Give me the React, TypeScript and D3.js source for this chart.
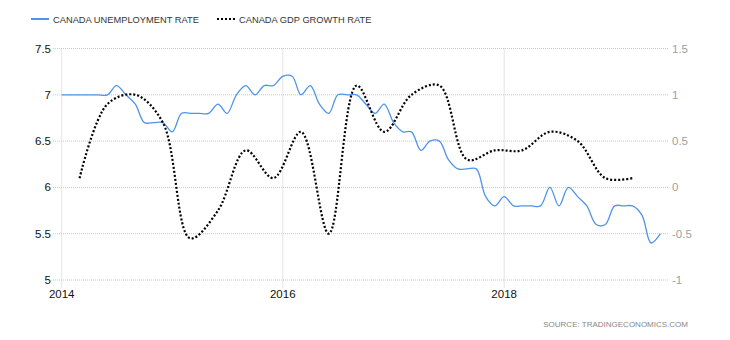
import React from "react";
import * as d3 from "d3";

const unemploymentStart = new Date(2014, 0, 1);
const unemployment: number[] = [
  7.0, 7.0, 7.0, 7.0, 7.0, 7.0, 7.1, 7.0, 6.9, 6.7, 6.7, 6.7,
  6.6, 6.8, 6.8, 6.8, 6.8, 6.9, 6.8, 7.0, 7.1, 7.0, 7.1, 7.1,
  7.2, 7.2, 7.0, 7.1, 6.9, 6.8, 7.0, 7.0, 7.0, 6.9, 6.8, 6.9,
  6.7, 6.6, 6.6, 6.4, 6.5, 6.5, 6.3, 6.2, 6.2, 6.2, 5.9, 5.8,
  5.9, 5.8, 5.8, 5.8, 5.8, 6.0, 5.8, 6.0, 5.9, 5.8, 5.6, 5.6,
  5.8, 5.8, 5.8, 5.7, 5.4, 5.5,
];

const gdpStart = new Date(2014, 2, 1);
const gdpGrowth: number[] = [
  0.1, 0.9, 1.0, 0.7, -0.55, -0.25, 0.4, 0.1, 0.6, -0.5, 1.1,
  0.6, 1.0, 1.1, 0.3, 0.4, 0.4, 0.6, 0.5, 0.1, 0.1,
];

const leftTicks = [5, 5.5, 6, 6.5, 7, 7.5];
const rightTicks = [-1, -0.5, 0, 0.5, 1, 1.5];
const yearTicks = [2014, 2016, 2018];
const legendLabels = ["CANADA UNEMPLOYMENT RATE", "CANADA GDP GROWTH RATE"];
const sourceText = "SOURCE:  TRADINGECONOMICS.COM";

const W = 730;
const H = 340;
const X0 = 61.7;
const X1 = 669.5;
const YTOP = 48.5;
const YBOT = 280;
const FONT = "'Liberation Sans', Arial, sans-serif";
const BLUE = "#4f94ea";

export default function App() {
  const x = d3
    .scaleTime()
    .domain([new Date(2014, 0, 1), new Date(2019, 6, 1)])
    .range([X0, X1]);
  const yL = d3.scaleLinear().domain([5, 7.5]).range([YBOT, YTOP]);
  const yR = d3.scaleLinear().domain([-1, 1.5]).range([YBOT, YTOP]);

  const uData = unemployment.map((v, i) => ({
    d: d3.timeMonth.offset(unemploymentStart, i),
    v,
  }));
  const gData = gdpGrowth.map((v, i) => ({
    d: d3.timeMonth.offset(gdpStart, i * 3),
    v,
  }));

  const uLine = d3
    .line<{ d: Date; v: number }>()
    .x((p) => x(p.d))
    .y((p) => yL(p.v))
    .curve(d3.curveCatmullRom.alpha(0.5));
  const gLine = d3
    .line<{ d: Date; v: number }>()
    .x((p) => x(p.d))
    .y((p) => yR(p.v))
    .curve(d3.curveCatmullRom.alpha(0.5));

  return (
    <svg
      width={W}
      height={H}
      style={{ position: "absolute", left: 0, top: 0, background: "#fff" }}
      fontFamily={FONT}
    >
      {/* legend */}
      <line x1={31} x2={49} y1={19} y2={19} stroke={BLUE} strokeWidth={2} />
      <text x={53} y={22.5} fontSize={9.3} fill="#333">
        {legendLabels[0]}
      </text>
      <line
        x1={217}
        x2={235}
        y1={19}
        y2={19}
        stroke="#000"
        strokeWidth={2}
        strokeDasharray="2,2"
      />
      <text x={239} y={22.5} fontSize={9.3} fill="#333">
        {legendLabels[1]}
      </text>

      {/* horizontal grid */}
      {leftTicks.map((t) => (
        <line
          key={"h" + t}
          x1={53}
          x2={669}
          y1={yL(t)}
          y2={yL(t)}
          stroke="#c8c8c8"
          strokeWidth={1}
          strokeDasharray="1,1"
        />
      ))}
      {/* vertical grid */}
      {yearTicks.map((yr) => (
        <line
          key={"v" + yr}
          x1={x(new Date(yr, 0, 1))}
          x2={x(new Date(yr, 0, 1))}
          y1={YTOP}
          y2={288}
          stroke="#c8c8c8"
          strokeWidth={1}
          strokeDasharray="1,1"
        />
      ))}

      {/* left axis labels */}
      {leftTicks.map((t) => (
        <text
          key={"l" + t}
          x={51}
          y={yL(t) + 4}
          textAnchor="end"
          fontSize={11.5}
          fill="#111"
        >
          {String(t)}
        </text>
      ))}
      {/* right axis labels */}
      {rightTicks.map((t) => (
        <text
          key={"r" + t}
          x={672}
          y={yR(t) + 4}
          textAnchor="start"
          fontSize={11.5}
          fill="#a0a0a0"
        >
          {String(t)}
        </text>
      ))}
      {/* x labels */}
      {yearTicks.map((yr) => (
        <text
          key={"x" + yr}
          x={x(new Date(yr, 0, 1))}
          y={298}
          textAnchor="middle"
          fontSize={11.5}
          fill="#111"
        >
          {String(yr)}
        </text>
      ))}

      {/* series */}
      <path
        d={uLine(uData) || ""}
        fill="none"
        stroke={BLUE}
        strokeWidth={1.3}
      />
      <path
        d={gLine(gData) || ""}
        fill="none"
        stroke="#000"
        strokeWidth={2.2}
        strokeDasharray="2,2"
      />

      {/* source */}
      <text
        x={688}
        y={327}
        textAnchor="end"
        fontSize={8}
        fill="#888"
      >
        {sourceText}
      </text>
    </svg>
  );
}
